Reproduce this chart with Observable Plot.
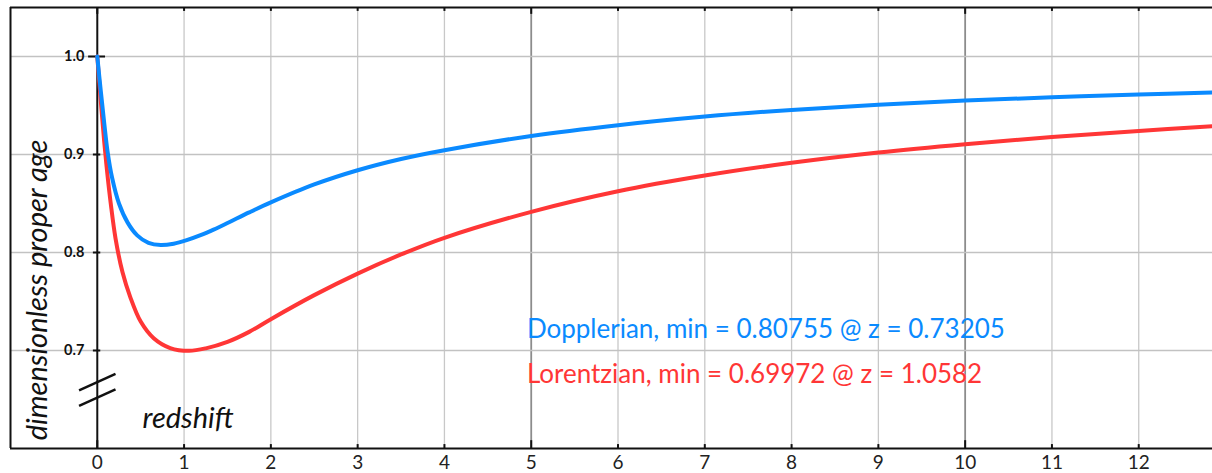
<!DOCTYPE html>
<html><head><meta charset="utf-8">
<script src="https://cdn.jsdelivr.net/npm/d3@7"></script>
<script src="https://cdn.jsdelivr.net/npm/@observablehq/plot@0.6"></script>
<style>
html,body{margin:0;padding:0;background:#fff;}
#chart svg{display:block;}
</style></head><body><div id="chart"></div>
<script>
const xTicks = [0,1,2,3,4,5,6,7,8,9,10,11,12];
const xTickLabels = ["0","1","2","3","4","5","6","7","8","9","10","11","12"];
const yTicks = [0.7,0.8,0.9,1.0];
const yTickLabels = ["0.7","0.8","0.9","1.0"];
const seriesNames = ["Dopplerian","Lorentzian"];
const seriesColors = ["#0a8aff","#ff3636"];
const dopplerZ   = [0, 0.04, 0.08, 0.12, 0.17, 0.25, 0.35, 0.46, 0.59, 0.732, 0.88, 1.03, 1.19, 1.34, 1.5, 1.75, 2, 2.5, 3, 3.5, 4, 5, 6, 7, 8, 9, 10, 11, 12, 12.85];
const dopplerAge = [1.0, 0.965, 0.932, 0.902, 0.8765, 0.850, 0.8305, 0.8175, 0.8098, 0.8076, 0.8090, 0.8126, 0.8177, 0.8234, 0.8301, 0.8409, 0.8511, 0.8694, 0.8839, 0.8954, 0.9044, 0.9189, 0.9299, 0.9387, 0.9455, 0.9508, 0.9550, 0.9584, 0.9612, 0.9632];
const lorentzZ   = [0, 0.04, 0.08, 0.115, 0.155, 0.21, 0.29, 0.38, 0.5, 0.65, 0.84, 1.058, 1.25, 1.5, 1.75, 2, 2.5, 3, 3.5, 4, 5, 6, 7, 8, 9, 10, 11, 12, 12.85];
const lorentzAge = [1.0, 0.955, 0.913, 0.881, 0.850, 0.8145, 0.780, 0.7545, 0.7295, 0.7125, 0.7025, 0.6997, 0.7022, 0.7088, 0.7190, 0.7320, 0.7565, 0.7785, 0.7980, 0.8150, 0.8415, 0.8625, 0.8785, 0.8915, 0.9020, 0.9105, 0.9178, 0.9240, 0.9288];
const annotations = ["Dopplerian, min = 0.80755 @ z = 0.73205", "Lorentzian, min = 0.69972 @ z = 1.0582"];
const xLabel = "redshift";
const yLabel = "dimensionless proper age";
const axisBreaks = [0.6519, 0.6677];

const toRows = (name, zs, ages) => zs.map((z, i) => ({series: name, z, age: ages[i]}));
const dopplerRows = toRows(seriesNames[0], dopplerZ, dopplerAge);
const lorentzRows = toRows(seriesNames[1], lorentzZ, lorentzAge);
const xt = xTicks.map((v, i) => ({v, label: xTickLabels[i]}));
const yt = yTicks.map((v, i) => ({v, label: yTickLabels[i]}));
const FONT = "Lato, 'Open Sans', sans-serif";

const chart = Plot.plot({
  width: 1212, height: 473,
  marginLeft: 10, marginRight: 0, marginTop: 7, marginBottom: 25,
  x: {domain: [-1, 12.85], axis: null},
  y: {domain: [0.6, 1.05], axis: null},
  style: {background: "white", fontFamily: FONT},
  marks: [
    Plot.ruleX(xTicks.filter(d => d > 0 && d % 5 !== 0), {stroke: "#c8c8c8", strokeWidth: 1.3}),
    Plot.ruleX(xTicks.filter(d => d > 0 && d % 5 === 0), {stroke: "#8c8c8c", strokeWidth: 1.8}),
    Plot.ruleY(yTicks, {stroke: "#c2c2c2", strokeWidth: 1.5}),
    // frame
    Plot.ruleX([-1], {stroke: "#111", strokeWidth: 2}),
    Plot.ruleY([1.05], {stroke: "#111", strokeWidth: 2}),
    Plot.ruleY([0.6], {stroke: "#111", strokeWidth: 2}),
    Plot.ruleX([0], {stroke: "#111", strokeWidth: 2}),
    // top and bottom tick marks
    Plot.ruleX(xTicks, {y1: 1.05, y2: d => 1.05 - (d % 5 === 0 ? 0.007 : 0.004), stroke: "#111", strokeWidth: 2}),
    Plot.ruleX(xTicks, {y1: 0.6, y2: d => 0.6 + (d % 5 === 0 ? 0.008 : 0.004), stroke: "#111", strokeWidth: 2}),
    // y ticks on the axis
    Plot.ruleY(yTicks, {x1: d => d === 1.0 ? -0.1 : -0.045, x2: d => d === 1.0 ? 0.095 : 0.04, stroke: "#111", strokeWidth: 2}),
    // axis break
    Plot.link(axisBreaks, {x1: -0.21, x2: 0.21, y1: d => d - 0.0085, y2: d => d + 0.0085, stroke: "#111", strokeWidth: 2.5}),
    // curves
    Plot.line(lorentzRows, {x: "z", y: "age", stroke: seriesColors[1], strokeWidth: 4, curve: "catmull-rom"}),
    Plot.line(dopplerRows, {x: "z", y: "age", stroke: seriesColors[0], strokeWidth: 4, curve: "catmull-rom"}),
    // tick labels
    Plot.text(xt, {x: "v", y: 0.6, text: "label", dy: 14, lineAnchor: "middle", fontSize: 19, fill: "#222"}),
    Plot.text(yt, {x: 0, y: "v", text: "label", dx: -13, textAnchor: "end", lineAnchor: "middle", fontSize: 14.5, fontWeight: "bold", fill: "#111"}),
    // axis labels
    Plot.text([yLabel], {x: -0.689, y: 0.7618, text: d => d, rotate: -90, fontSize: 29, fontStyle: "italic", fill: "#111", lineAnchor: "middle"}),
    Plot.text([xLabel], {x: 0.521, y: 0.6299, text: d => d, textAnchor: "start", lineAnchor: "middle", fontSize: 29, fontStyle: "italic", fill: "#111"}),
    // annotations
    Plot.text([annotations[0]], {x: 4.95, y: 0.7216, text: d => d, textAnchor: "start", lineAnchor: "middle", fontSize: 26, fill: seriesColors[0]}),
    Plot.text([annotations[1]], {x: 4.95, y: 0.6758, text: d => d, textAnchor: "start", lineAnchor: "middle", fontSize: 26, fill: seriesColors[1]})
  ]
});
document.getElementById("chart").appendChild(chart);
</script>
</body></html>
